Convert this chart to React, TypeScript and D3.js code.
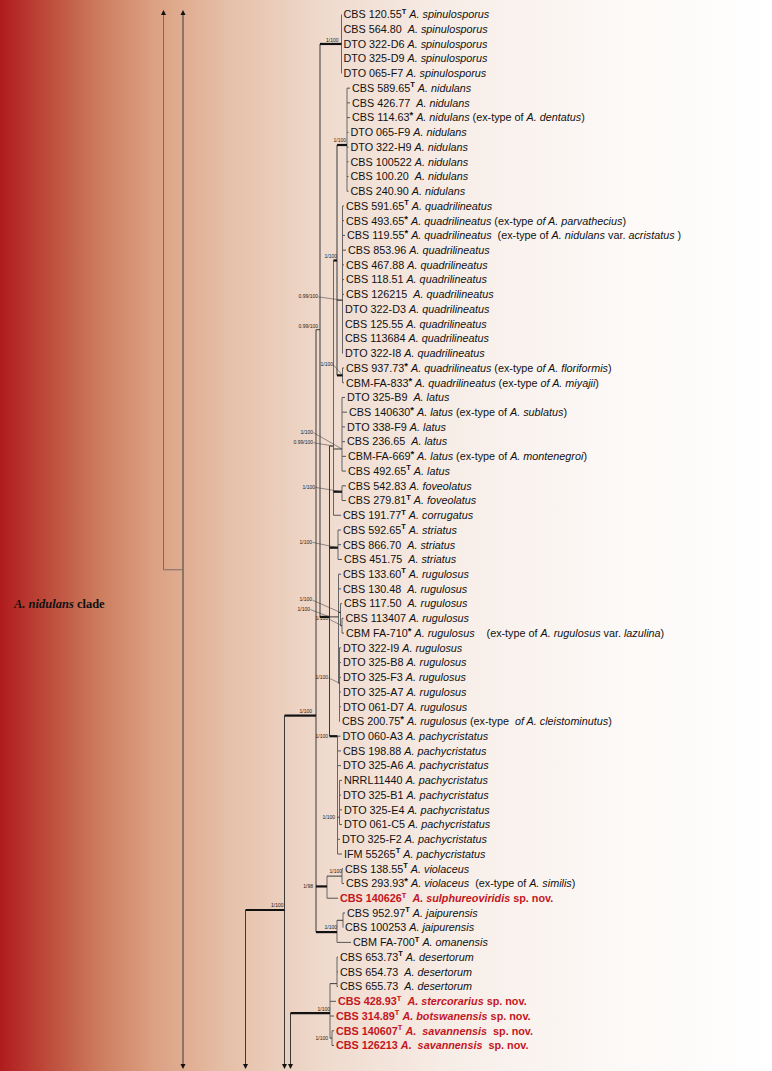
import React from 'react';
import * as d3 from 'd3';

const W = 772;
const H = 1071;

// ---- Leaf labels (| toggles italic, ^T / ^* superscript) ----
const leafLabels = [
  'CBS 120.55^T |A. spinulosporus|',
  'CBS 564.80  |A. spinulosporus|',
  'DTO 322-D6 |A. spinulosporus|',
  'DTO 325-D9 |A. spinulosporus|',
  'DTO 065-F7 |A. spinulosporus|',
  'CBS 589.65^T |A. nidulans|',
  'CBS 426.77  |A. nidulans|',
  'CBS 114.63^* |A. nidulans| (ex-type of |A. dentatus|)',
  'DTO 065-F9 |A. nidulans|',
  'DTO 322-H9 |A. nidulans|',
  'CBS 100522 |A. nidulans|',
  'CBS 100.20  |A. nidulans|',
  'CBS 240.90 |A. nidulans|',
  'CBS 591.65^T |A. quadrilineatus|',
  'CBS 493.65^* |A. quadrilineatus| (ex-type |of A. parvathecius|)',
  'CBS 119.55^* |A. quadrilineatus|  (ex-type of |A. nidulans| var. |acristatus| )',
  'CBS 853.96 |A. quadrilineatus|',
  'CBS 467.88 |A. quadrilineatus|',
  'CBS 118.51 |A. quadrilineatus|',
  'CBS 126215  |A. quadrilineatus|',
  'DTO 322-D3 |A. quadrilineatus|',
  'CBS 125.55 |A. quadrilineatus|',
  'CBS 113684 |A. quadrilineatus|',
  'DTO 322-I8 |A. quadrilineatus|',
  'CBS 937.73^* |A. quadrilineatus| (ex-type |of A. floriformis|)',
  'CBM-FA-833^* |A. quadrilineatus| (ex-type |of A. miyajii|)',
  'DTO 325-B9  |A. latus|',
  'CBS 140630^* |A. latus| (ex-type of |A. sublatus|)',
  'DTO 338-F9 |A. latus|',
  'CBS 236.65  |A. latus|',
  'CBM-FA-669^* |A. latus| (ex-type of |A. montenegroi|)',
  'CBS 492.65^T |A. latus|',
  'CBS 542.83 |A. foveolatus|',
  'CBS 279.81^T |A. foveolatus|',
  'CBS 191.77^T |A. corrugatus|',
  'CBS 592.65^T |A. striatus|',
  'CBS 866.70  |A. striatus|',
  'CBS 451.75  |A. striatus|',
  'CBS 133.60^T |A. rugulosus|',
  'CBS 130.48  |A. rugulosus|',
  'CBS 117.50  |A. rugulosus|',
  'CBS 113407 |A. rugulosus|',
  'CBM FA-710^* |A. rugulosus|    (ex-type of |A. rugulosus| var. |lazulina|)',
  'DTO 322-I9 |A. rugulosus|',
  'DTO 325-B8 |A. rugulosus|',
  'DTO 325-F3 |A. rugulosus|',
  'DTO 325-A7 |A. rugulosus|',
  'DTO 061-D7 |A. rugulosus|',
  'CBS 200.75^* |A. rugulosus| (ex-type  |of A. cleistominutus|)',
  'DTO 060-A3 |A. pachycristatus|',
  'CBS 198.88 |A. pachycristatus|',
  'DTO 325-A6 |A. pachycristatus|',
  'NRRL11440 |A. pachycristatus|',
  'DTO 325-B1 |A. pachycristatus|',
  'DTO 325-E4 |A. pachycristatus|',
  'DTO 061-C5 |A. pachycristatus|',
  'DTO 325-F2 |A. pachycristatus|',
  'IFM 55265^T |A. pachycristatus|',
  'CBS 138.55^T |A. violaceus|',
  'CBS 293.93^* |A. violaceus|  (ex-type of |A. similis|)',
  'CBS 140626^T  |A. sulphureoviridis| sp. nov.',
  'CBS 952.97^T |A. jaipurensis|',
  'CBS 100253 |A. jaipurensis|',
  'CBM FA-700^T |A. omanensis|',
  'CBS 653.73^T |A. desertorum|',
  'CBS 654.73  |A. desertorum|',
  'CBS 655.73  |A. desertorum|',
  'CBS 428.93^T  |A. stercorarius| sp. nov.',
  'CBS 314.89^T |A. botswanensis| sp. nov.',
  'CBS 140607^T |A.  savannensis|  sp. nov.',
  'CBS 126213 |A.  savannensis|  sp. nov.',
];

// new species (drawn in red bold)
const novelLeaves = [60, 67, 68, 69, 70];

// parent node of each leaf
const leafParents = [
  'Spin', 'Spin', 'Spin', 'Spin', 'Spin',
  'Nid', 'Nid', 'Nid', 'Nid', 'Nid', 'Nid', 'Nid', 'Nid',
  'Quad', 'Quad', 'Quad', 'Quad', 'Quad', 'Quad', 'Quad', 'Quad', 'Quad', 'Quad', 'Quad',
  'QP', 'QP',
  'Lat', 'Lat', 'Lat', 'Lat', 'Lat', 'Lat',
  'Fov', 'Fov',
  'L',
  'Str', 'Str', 'Str',
  'Rug', 'Rug', 'R1', 'R1b', 'R1b',
  'R2', 'R2', 'R2', 'R2', 'R2', 'R2',
  'Pac', 'Pac', 'Pac', 'P2', 'P2', 'P2', 'P2', 'Pac', 'Pac',
  'VP', 'VP', 'Vio',
  'JP', 'JP', 'Jai',
  'Des', 'Des', 'Des', 'DS', 'DS', 'Sav', 'Sav',
];

// tip depth of each leaf (tree units)
const leafTips = [
  181.5, 181.5, 181.5, 181.5, 181.5,
  190, 190, 190, 188.5, 188.5, 188.5, 188.5, 188.5,
  184, 184, 185, 186, 184, 184, 184, 183, 183, 183, 183,
  184, 184,
  185, 187, 185, 185, 186, 186,
  186, 186,
  181,
  181, 181, 182,
  181, 181, 182, 183.5, 184,
  181, 181, 181, 181, 181, 180,
  180.5, 181, 181, 182, 181, 182, 182, 180, 182,
  183, 184, 178,
  185, 183, 191,
  178, 178, 178, 176, 174, 174, 174,
];

// ---- Internal nodes ----
const nodeIds = ['s183', 's163', 's245', 's284', 's290', 'NB', 'C', 'Spin', 'D', 'L', 'M', 'Nid', 'Quad', 'QP', 'Lat', 'Fov', 'Str', 'Rug', 'R1', 'R1b', 'R2', 'Pac', 'P2', 'Vio', 'VP', 'Jai', 'JP', 'DS', 'Des', 'Sav'];
const nodeParents = [null, 's183', null, 's245', null, 's284', 'NB', 'C', 'C', 'D', 'L', 'M', 'M', 'M', 'L', 'L', 'D', 'D', 'Rug', 'R1', 'Rug', 'D', 'Pac', 'NB', 'Vio', 'NB', 'Jai', 's290', 'DS', 'DS'];
const nodeDepths = [23, 3.5, 85.5, 124.5, 130.5, 156, 160, 181.5, 169.5, 173.5, 177, 187, 182.5, 182.5, 182, 182, 178, 178.5, 180.5, 182, 179.5, 177.5, 179.5, 167, 182, 177, 183, 170, 177, 172];
const nodeRows = [null, 37.7, 60.8, 60.8, 67.8, 47.6, 21.4, 2, 40.9, 29.3, 16.7, 8.86, 19.4, 24.5, 29.5, 32.4, 36.2, 40.9, 40.6, 41.5, 45.4, 49, 54.5, 59.2, 58.5, 62.3, 61.5, 67.8, 65.8, 69.5];
const nodeSupport = ['', '', '', '1/100', '', '1/100', '0.99/100', '1/100', '1/100', '0.99/100', '1/100', '1/100', '0.99/100', '1/100', '1/100', '1/100', '1/100', '', '1/100', '1/100', '1/100', '1/100', '1/100', '1/98', '1/100', '1/100', '', '1/100', '', '1/100'];
const nodeThick = ['s284', 'NB', 'Spin', 'D', 'M', 'Nid', 'QP', 'Fov', 'Str', 'Pac', 'Vio', 'Jai', 'DS'];
const nodeExtend: Record<string, string> = { s183: 'both', s163: 'top', s245: 'bottom', s284: 'bottom', s290: 'bottom' };

// ---- layout / styling (not data) ----
// support label placement: [dx, dy, leader?]
const supportPos: Record<string, [number, number, boolean]> = {
  s284: [-1, -3, false],
  NB: [-4, -2.5, false],
  C: [-2, -2, false],
  Spin: [-3, -2, false],
  D: [-19.5, -6, true],
  L: [-20.5, -2, true],
  M: [0, -2.5, false],
  Nid: [-1, -2.5, false],
  Quad: [-24.5, -2, true],
  QP: [-9.5, -9, true],
  Lat: [-29, -15, true],
  Fov: [-27, -3, true],
  Str: [-26, -4, true],
  R1: [-28.5, -11, true],
  R1b: [-14, -5.5, true],
  R2: [-11.5, -4, true],
  Pac: [-9.5, 1.5, false],
  P2: [-4.5, 2, false],
  Vio: [-14, 2, false],
  VP: [0, -3, false],
  Jai: [0, -3, false],
  DS: [0, -2.5, false],
  Sav: [-4, 2, false],
};

const TOP_Y = 10;
const BOTTOM_Y = 1069;

function parseLabel(s: string) {
  const segs: { t: string; italic: boolean; sup: boolean }[] = [];
  s.split('|').forEach((part, i) => {
    const italic = i % 2 === 1;
    const re = /\^([T*])/g;
    let last = 0;
    let m: RegExpExecArray | null;
    while ((m = re.exec(part))) {
      if (m.index > last) segs.push({ t: part.slice(last, m.index), italic, sup: false });
      segs.push({ t: m[1], italic: false, sup: true });
      last = m.index + 2;
    }
    if (last < part.length) segs.push({ t: part.slice(last), italic, sup: false });
  });
  return segs;
}

export default function App() {
  const x = d3.scaleLinear().domain([0, 240]).range([160, 400]);
  const y = d3.scaleLinear().domain([0, 70]).range([14.5, 1045.5]);

  const nodeIndex: Record<string, number> = {};
  nodeIds.forEach((id, i) => (nodeIndex[id] = i));

  const childRows: Record<string, number[]> = {};
  nodeIds.forEach((id) => (childRows[id] = []));
  const hLines: { x1: number; x2: number; y: number; thick: boolean; color: string }[] = [];

  nodeIds.forEach((id, i) => {
    const p = nodeParents[i];
    const r = nodeRows[i];
    if (p && r !== null) {
      childRows[p].push(r);
      hLines.push({
        x1: x(nodeDepths[nodeIndex[p]]),
        x2: x(nodeDepths[i]),
        y: y(r),
        thick: nodeThick.includes(id),
        color: id === 's163' ? '#7d6b62' : '#3a3a3a',
      });
    }
  });
  leafParents.forEach((p, i) => {
    childRows[p].push(i);
    hLines.push({ x1: x(nodeDepths[nodeIndex[p]]), x2: x(leafTips[i]), y: y(i), thick: false, color: '#555' });
  });

  const vLines = nodeIds.map((id, i) => {
    const rows = [...childRows[id]];
    if (nodeRows[i] !== null) rows.push(nodeRows[i] as number);
    let y1 = rows.length ? y(d3.min(rows) as number) : TOP_Y;
    let y2 = rows.length ? y(d3.max(rows) as number) : BOTTOM_Y;
    const ext = nodeExtend[id];
    if (ext === 'top' || ext === 'both') y1 = TOP_Y + 4;
    if (ext === 'bottom' || ext === 'both') y2 = BOTTOM_Y - 4;
    const isLeafParent = leafParents.includes(id);
    return {
      id,
      x: x(nodeDepths[i]),
      y1,
      y2,
      ext,
      color: id === 's163' ? '#7d6b62' : isLeafParent ? '#666' : '#3a3a3a',
    };
  });

  const arrows: { x: number; dir: string }[] = [];
  vLines.forEach((v) => {
    if (v.ext === 'top' || v.ext === 'both') arrows.push({ x: v.x, dir: 'up' });
    if (v.ext === 'bottom' || v.ext === 'both') arrows.push({ x: v.x, dir: 'down' });
  });

  const font = "'Liberation Sans', Arial, sans-serif";

  return (
    <svg width={W} height={H} style={{ position: 'absolute', left: 0, top: 0 }} xmlns="http://www.w3.org/2000/svg">
      <defs>
        <linearGradient id="bg" x1="0" x2="1" y1="0" y2="0">
          <stop offset="0" stopColor="#b01b1d" />
          <stop offset="0.06" stopColor="#bd4a3a" />
          <stop offset="0.13" stopColor="#cd7d5f" />
          <stop offset="0.2" stopColor="#dca183" />
          <stop offset="0.3" stopColor="#e6c1aa" />
          <stop offset="0.42" stopColor="#efdacd" />
          <stop offset="0.58" stopColor="#f7ede7" />
          <stop offset="0.78" stopColor="#fcf8f6" />
          <stop offset="1" stopColor="#ffffff" />
        </linearGradient>
      </defs>
      <rect x={0} y={0} width={W} height={H} fill="url(#bg)" />

      <text x={14} y={608} fontFamily="'Liberation Serif', 'Times New Roman', serif" fontWeight="bold" fontSize={12.5} fill="#111">
        <tspan fontStyle="italic">A. nidulans</tspan> clade
      </text>

      {vLines.map((v, i) => (
        <line key={'v' + i} x1={v.x} x2={v.x} y1={v.y1} y2={v.y2} stroke={v.color} strokeWidth={1} />
      ))}
      {hLines.map((h, i) => (
        <line key={'h' + i} x1={h.x1} x2={h.x2} y1={h.y} y2={h.y} stroke={h.thick ? '#111' : h.color} strokeWidth={h.thick ? 2.2 : 1} />
      ))}
      {arrows.map((a, i) => (
        <path
          key={'a' + i}
          d={a.dir === 'up'
            ? `M${a.x},${TOP_Y} L${a.x - 2.5},${TOP_Y + 5} L${a.x + 2.5},${TOP_Y + 5} Z`
            : `M${a.x},${BOTTOM_Y} L${a.x - 2.5},${BOTTOM_Y - 5} L${a.x + 2.5},${BOTTOM_Y - 5} Z`}
          fill="#111"
        />
      ))}

      {nodeIds.map((id, i) => {
        const s = nodeSupport[i];
        const pos = supportPos[id];
        if (!s || !pos || nodeRows[i] === null) return null;
        const nx = x(nodeDepths[i]);
        const ny = y(nodeRows[i] as number);
        const tx = nx + pos[0];
        const ty = ny + pos[1];
        return (
          <g key={'s' + id}>
            {pos[2] && <line x1={tx + 0.5} y1={ty - 1.3} x2={nx} y2={ny} stroke="#333" strokeWidth={0.5} />}
            <text x={tx} y={ty} textAnchor="end" fontFamily={font} fontSize={5} fill="#222">{s}</text>
          </g>
        );
      })}

      {leafLabels.map((lab, i) => {
        const red = novelLeaves.includes(i);
        const segs = parseLabel(lab);
        let raised = false;
        return (
          <text
            key={'l' + i}
            x={x(leafTips[i]) + 2}
            y={y(i) + 3.8}
            fontFamily={font}
            fontSize={10.8}
            fontWeight={red ? 'bold' : 'normal'}
            fill={red ? '#c4161e' : '#111'}
            style={{ whiteSpace: 'pre' }}
            xmlSpace="preserve"
          >
            {segs.map((sg, j) => {
              let dy = 0;
              if (sg.sup && !raised) { dy = sg.t === '*' ? -3 : -4.5; raised = true; }
              else if (!sg.sup && raised) { dy = segs[j - 1].t === '*' ? 3 : 4.5; raised = false; }
              return (
                <tspan
                  key={j}
                  dy={dy || undefined}
                  fontStyle={sg.italic ? 'italic' : undefined}
                  fontSize={sg.sup ? (sg.t === '*' ? 9.5 : 7.5) : undefined}
                  fontWeight={sg.sup ? 'bold' : undefined}
                >
                  {sg.t}
                </tspan>
              );
            })}
          </text>
        );
      })}
    </svg>
  );
}
